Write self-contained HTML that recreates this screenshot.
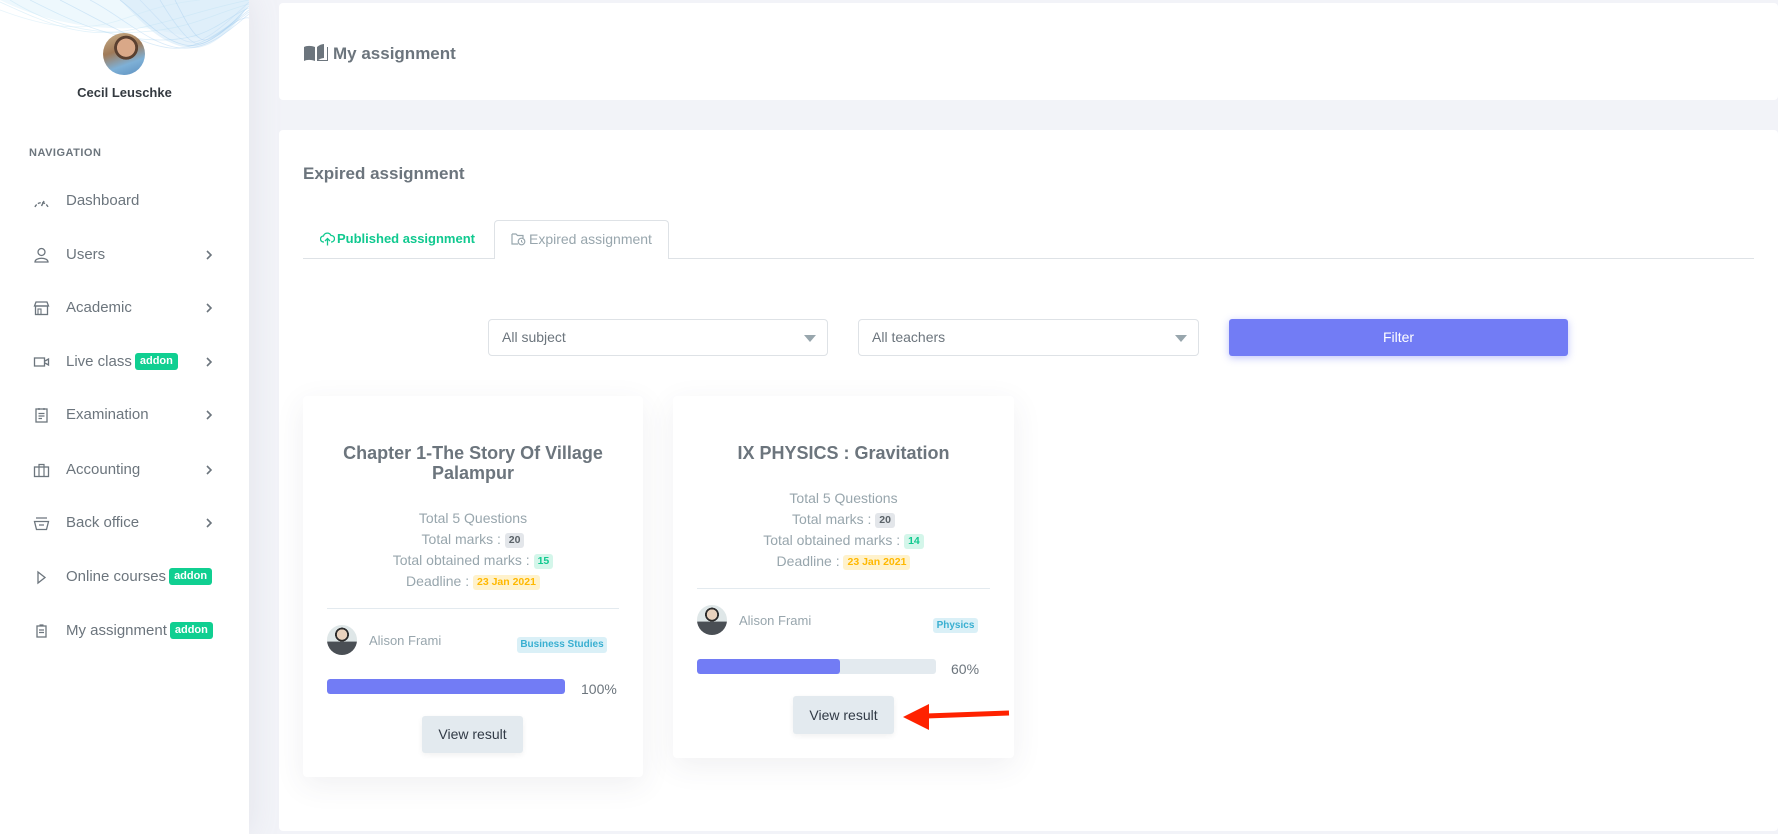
<!DOCTYPE html>
<html>
<head>
<meta charset="utf-8">
<style>
*{box-sizing:border-box;margin:0;padding:0}
html,body{width:1778px;height:834px;overflow:hidden}
body{background:#f2f3f8;font-family:"Liberation Sans",Arial,sans-serif;position:relative;color:#6c757d}
.abs{position:absolute}
.sidebar{left:0;top:0;width:249px;height:834px;background:#fff;box-shadow:0 0 30px rgba(154,161,171,.18)}
.nav{position:absolute;left:0;width:249px;height:24px;line-height:24px;font-size:15px;color:#6c757d}
.nav .t{position:absolute;left:66px;top:0;white-space:nowrap}
.nav svg.ic{position:absolute;left:33px;top:4px}
.nav .chev{position:absolute;left:205px;top:7px}
.addon{display:inline-block;background:#10cf91;color:#fff;font-weight:bold;font-size:11px;line-height:17px;height:17px;padding:0 5px;border-radius:3px;vertical-align:2px;margin-left:3px}
.card{position:absolute;background:#fff;border-radius:4px}
.acard{position:absolute;background:#fff;border-radius:4px;box-shadow:0 8px 30px rgba(60,70,90,.08)}
.acard .title{position:absolute;left:24px;width:292px;text-align:center;font-weight:bold;font-size:18px;line-height:20px;color:#6c757d}
.acard .info{position:absolute;left:0;width:100%;text-align:center;font-size:14px;line-height:21px;color:#98a6ad}
.bdg{display:inline-block;font-weight:bold;font-size:10.5px;line-height:15px;height:15px;padding:0 4px;border-radius:3px;vertical-align:1px}
.b-gray{background:#e3e6ea;color:#5a6268}
.b-green{background:#d4f6ea;color:#10c98f}
.b-yel{background:#fff2cc;color:#ffb800}
.div{position:absolute;left:24px;height:1px;background:#e3eaef}
.av{position:absolute;width:30px;height:30px;border-radius:50%;overflow:hidden;background:radial-gradient(circle at 50% 32%,#e9d2bd 0 20%,#2b2b2b 21% 27%,transparent 28%),linear-gradient(#dfe7e8 0 55%,#4a4f55 56% 100%)}
.name{position:absolute;left:66px;font-size:13px;line-height:16px;color:#98a6ad}
.sub{position:absolute;background:#daf0f7;color:#39afd1;font-weight:bold;font-size:10px;line-height:16px;text-align:center;border-radius:3px}
.prog{position:absolute;left:24px;height:15px;background:#e3eaef;border-radius:3px;overflow:hidden}
.prog i{display:block;height:100%;background:#727cf5;border-radius:3px}
.pct{position:absolute;left:278px;font-size:14px;line-height:16px;color:#6c757d}
.btn{position:absolute;background:#e3eaef;color:#313a46;font-size:14px;text-align:center;border-radius:3px;box-shadow:0 2px 6px rgba(0,0,0,.06)}
.sel{position:absolute;top:319px;height:37px;border:1px solid #dee2e6;border-radius:4px;background:#fff;font-size:14px;line-height:35px;padding-left:13px;color:#6c757d}
.sel .car{position:absolute;right:11px;top:15px;width:0;height:0;border-left:6px solid transparent;border-right:6px solid transparent;border-top:7px solid #98a6ad}
</style>
</head>
<body>

<!-- Sidebar -->
<div class="abs sidebar">
  <svg class="abs" style="left:0;top:0" width="249" height="60" viewBox="0 0 249 60">
    <path d="M0 0 C40 20 90 30 130 28 C170 26 200 50 230 30 C240 20 245 10 249 0 Z" fill="#e3f3fb" opacity=".6"/>
    <path d="M120 0 C140 20 160 45 190 48 C215 50 235 25 249 5 V0 Z" fill="#d6e9f9" opacity=".6"/>
    <g fill="none" stroke-width="0.8">
      <path d="M0 2 C40 20 80 40 130 30 S200 10 249 0" stroke="#bfe3f5" opacity=".45"/>
      <path d="M10 0 C50 25 90 35 140 32 S210 15 249 4" stroke="#bfe3f5" opacity=".45"/>
      <path d="M30 0 C70 20 110 40 160 40 S220 20 249 8" stroke="#b0d8f2" opacity=".45"/>
      <path d="M60 0 C100 20 140 45 170 48 S230 25 249 10" stroke="#a8d0f0" opacity=".45"/>
      <path d="M90 0 C120 15 150 45 180 48 S235 25 249 14" stroke="#a5cdef" opacity=".4"/>
      <path d="M120 0 C140 15 160 40 185 45 S235 20 249 6" stroke="#9cc8ee" opacity=".4"/>
      <path d="M0 10 C40 25 70 30 100 25 S150 5 200 0" stroke="#cdeaf7" opacity=".5"/>
      <path d="M140 0 C160 20 175 40 190 42 S230 20 249 2" stroke="#b3d5f2" opacity=".4"/>
      <path d="M160 0 C175 25 190 45 200 44 S235 22 249 12" stroke="#a8cff0" opacity=".4"/>
      <path d="M175 0 C185 20 195 40 205 40 S238 15 249 18" stroke="#9ec9ee" opacity=".4"/>
    </g>
  </svg>
  <div class="abs" style="left:103px;top:33px;width:42px;height:42px;border-radius:50%;background:radial-gradient(circle at 55% 35%,#d9a888 0 25%,#5a4030 26% 33%,transparent 34%),linear-gradient(160deg,#c9b08a 0%,#a07a58 40%,#7eb0d6 70%,#5c8fbf 100%)"></div>
  <div class="abs" style="left:0;top:85px;width:249px;text-align:center;font-weight:bold;font-size:13px;line-height:16px;color:#343a40">Cecil Leuschke</div>
  <div class="abs" style="left:29px;top:146px;font-size:11px;font-weight:bold;letter-spacing:.5px;line-height:14px;color:#6c757d">NAVIGATION</div>

  <div class="nav" style="top:189px"><svg class="ic" width="17" height="16" viewBox="0 0 17 16"><path d="M2 14 A7 7 0 0 1 15 14" fill="none" stroke="#6c757d" stroke-width="1.4" stroke-dasharray="3 1.5"/><path d="M8.5 13 L11 8" stroke="#6c757d" stroke-width="1.4"/></svg><span class="t">Dashboard</span></div>
  <div class="nav" style="top:243px"><svg class="ic" width="17" height="16" viewBox="0 0 17 16"><circle cx="8.5" cy="5" r="3.5" fill="none" stroke="#6c757d" stroke-width="1.3"/><path d="M2 15 C2 10 15 10 15 15 Z" fill="none" stroke="#6c757d" stroke-width="1.3"/></svg><span class="t">Users</span><svg class="chev" width="8" height="10" viewBox="0 0 8 10"><path d="M2 1 L6 5 L2 9" fill="none" stroke="#6c757d" stroke-width="1.6"/></svg></div>
  <div class="nav" style="top:296px"><svg class="ic" width="17" height="16" viewBox="0 0 17 16"><path d="M3 2 H14 L15.5 6 H1.5 Z" fill="none" stroke="#6c757d" stroke-width="1.3"/><rect x="2.5" y="6" width="12" height="8.5" fill="none" stroke="#6c757d" stroke-width="1.3"/><rect x="5" y="9" width="3" height="5.5" fill="none" stroke="#6c757d" stroke-width="1.1"/></svg><span class="t">Academic</span><svg class="chev" width="8" height="10" viewBox="0 0 8 10"><path d="M2 1 L6 5 L2 9" fill="none" stroke="#6c757d" stroke-width="1.6"/></svg></div>
  <div class="nav" style="top:350px"><svg class="ic" width="17" height="16" viewBox="0 0 17 16"><rect x="1.5" y="4" width="10" height="8" fill="none" stroke="#6c757d" stroke-width="1.3"/><path d="M12 7 L15.5 5 V11 L12 9" fill="none" stroke="#6c757d" stroke-width="1.3"/></svg><span class="t">Live class<span class="addon">addon</span></span><svg class="chev" width="8" height="10" viewBox="0 0 8 10"><path d="M2 1 L6 5 L2 9" fill="none" stroke="#6c757d" stroke-width="1.6"/></svg></div>
  <div class="nav" style="top:403px"><svg class="ic" width="17" height="16" viewBox="0 0 17 16"><rect x="3" y="2" width="11" height="13" fill="none" stroke="#6c757d" stroke-width="1.3"/><path d="M6 1 V3 M11 1 V3 M5.5 6.5 H11.5 M5.5 9 H11.5 M5.5 11.5 H9" stroke="#6c757d" stroke-width="1.2"/></svg><span class="t">Examination</span><svg class="chev" width="8" height="10" viewBox="0 0 8 10"><path d="M2 1 L6 5 L2 9" fill="none" stroke="#6c757d" stroke-width="1.6"/></svg></div>
  <div class="nav" style="top:458px"><svg class="ic" width="17" height="16" viewBox="0 0 17 16"><rect x="1.5" y="5" width="14" height="9.5" fill="none" stroke="#6c757d" stroke-width="1.3"/><path d="M6 5 V2.5 H11 V5 M6 5 V14.5 M11 5 V14.5" fill="none" stroke="#6c757d" stroke-width="1.2"/></svg><span class="t">Accounting</span><svg class="chev" width="8" height="10" viewBox="0 0 8 10"><path d="M2 1 L6 5 L2 9" fill="none" stroke="#6c757d" stroke-width="1.6"/></svg></div>
  <div class="nav" style="top:511px"><svg class="ic" width="17" height="16" viewBox="0 0 17 16"><path d="M3 3 H14 M1.5 6.5 H15.5 L13.5 14.5 H3.5 Z M6 10 H11" fill="none" stroke="#6c757d" stroke-width="1.3"/></svg><span class="t">Back office</span><svg class="chev" width="8" height="10" viewBox="0 0 8 10"><path d="M2 1 L6 5 L2 9" fill="none" stroke="#6c757d" stroke-width="1.6"/></svg></div>
  <div class="nav" style="top:565px"><svg class="ic" width="17" height="16" viewBox="0 0 17 16"><path d="M5 3 L12 8.5 L5 14 Z" fill="none" stroke="#6c757d" stroke-width="1.3"/></svg><span class="t">Online courses<span class="addon">addon</span></span></div>
  <div class="nav" style="top:619px"><svg class="ic" width="17" height="16" viewBox="0 0 17 16"><rect x="4" y="3" width="9" height="11" fill="none" stroke="#6c757d" stroke-width="1.3"/><path d="M6.5 2 H10.5 M6 7 H11 M6 9.5 H11" stroke="#6c757d" stroke-width="1.2"/></svg><span class="t">My assignment<span class="addon">addon</span></span></div>
</div>

<!-- Top card -->
<div class="card" style="left:279px;top:3px;width:1499px;height:97px">
  <svg class="abs" style="left:25px;top:41px" width="24" height="18" viewBox="0 0 24 18"><path d="M0 3 C3 1.5 7 1.5 11 3 V17 C7 15.5 3 15.5 0 17 Z" fill="#6c757d"/><path d="M13 3 C15 1 18 0 20 0 V14 C18 14 15 15 13 17 Z" fill="#6c757d"/><path d="M21 3 H24 V17 H13 V16 H23 V3" fill="#6c757d"/></svg>
  <div class="abs" style="left:54px;top:41px;font-weight:bold;font-size:17px;line-height:20px;color:#6c757d">My assignment</div>
</div>

<!-- Main card -->
<div class="card" style="left:279px;top:130px;width:1499px;height:701px"></div>

<div class="abs" style="left:303px;top:164px;font-weight:bold;font-size:17px;line-height:20px;color:#6c757d">Expired assignment</div>

<!-- Tabs -->
<div class="abs" style="left:303px;top:258px;width:1451px;height:1px;background:#dee2e6"></div>
<div class="abs" style="left:494px;top:220px;width:175px;height:39px;background:#fff;border:1px solid #dee2e6;border-bottom:none;border-radius:4px 4px 0 0"></div>
<svg class="abs" style="left:320px;top:232px" width="15" height="14" viewBox="0 0 15 14"><path d="M4 10 H3.5 A3 3 0 0 1 3.5 4 A4 4 0 0 1 11 3.5 A3 3 0 0 1 11.5 10 H11" fill="none" stroke="#10c98f" stroke-width="1.3"/><path d="M7.5 13.5 V6.5 M5 9 L7.5 6.5 L10 9" fill="none" stroke="#10c98f" stroke-width="1.3"/></svg>
<div class="abs" style="left:337px;top:231px;font-weight:bold;font-size:13px;line-height:16px;color:#10c98f">Published assignment</div>
<svg class="abs" style="left:511px;top:232px" width="15" height="14" viewBox="0 0 15 14"><path d="M1 2 H5 L6.5 3.5 H12 V6 M1 2 V12 H7" fill="none" stroke="#98a6ad" stroke-width="1.2"/><circle cx="10.5" cy="9.5" r="3.3" fill="none" stroke="#98a6ad" stroke-width="1.2"/><path d="M10.5 8 V9.7 L11.7 10.5" fill="none" stroke="#98a6ad" stroke-width="1"/></svg>
<div class="abs" style="left:529px;top:231px;font-size:14px;line-height:16px;color:#98a6ad">Expired assignment</div>

<!-- Filters -->
<div class="sel" style="left:488px;width:340px">All subject<span class="car"></span></div>
<div class="sel" style="left:858px;width:341px">All teachers<span class="car"></span></div>
<div class="abs" style="left:1229px;top:319px;width:339px;height:37px;background:#727cf5;border-radius:3px;color:#fff;font-size:14px;line-height:37px;text-align:center;box-shadow:0 2px 8px rgba(114,124,245,.45)">Filter</div>

<!-- Card 1 -->
<div class="acard" style="left:303px;top:396px;width:340px;height:381px">
  <div class="title" style="top:47px">Chapter 1-The Story Of Village Palampur</div>
  <div class="info" style="top:112px">Total 5 Questions<br>Total marks : <span class="bdg b-gray">20</span><br>Total obtained marks : <span class="bdg b-green">15</span><br>Deadline : <span class="bdg b-yel">23 Jan 2021</span></div>
  <div class="div" style="top:212px;width:292px"></div>
  <div class="av" style="left:24px;top:229px"></div>
  <div class="name" style="top:237px">Alison Frami</div>
  <div class="sub" style="left:214px;top:241px;width:90px">Business Studies</div>
  <div class="prog" style="top:283px;width:238px"><i style="width:100%"></i></div>
  <div class="pct" style="top:285px">100%</div>
  <div class="btn" style="left:119px;top:320px;width:101px;height:37px;line-height:37px">View result</div>
</div>

<!-- Card 2 -->
<div class="acard" style="left:673px;top:396px;width:341px;height:362px">
  <div class="title" style="top:47px;width:293px">IX PHYSICS : Gravitation</div>
  <div class="info" style="top:92px">Total 5 Questions<br>Total marks : <span class="bdg b-gray">20</span><br>Total obtained marks : <span class="bdg b-green">14</span><br>Deadline : <span class="bdg b-yel">23 Jan 2021</span></div>
  <div class="div" style="top:192px;width:293px"></div>
  <div class="av" style="left:24px;top:209px"></div>
  <div class="name" style="top:217px">Alison Frami</div>
  <div class="sub" style="left:260px;top:222px;width:45px;line-height:15px">Physics</div>
  <div class="prog" style="top:263px;width:239px"><i style="width:60%"></i></div>
  <div class="pct" style="top:265px">60%</div>
  <div class="btn" style="left:120px;top:300px;width:101px;height:38px;line-height:38px">View result</div>
</div>

<!-- Arrow -->
<svg class="abs" style="left:0;top:0" width="1778" height="834" viewBox="0 0 1778 834">
  <path d="M926 716 L1009 713" stroke="#ff2200" stroke-width="5" fill="none"/>
  <polygon points="903,717 929,704 929,730" fill="#ff2200"/>
</svg>

</body>
</html>
